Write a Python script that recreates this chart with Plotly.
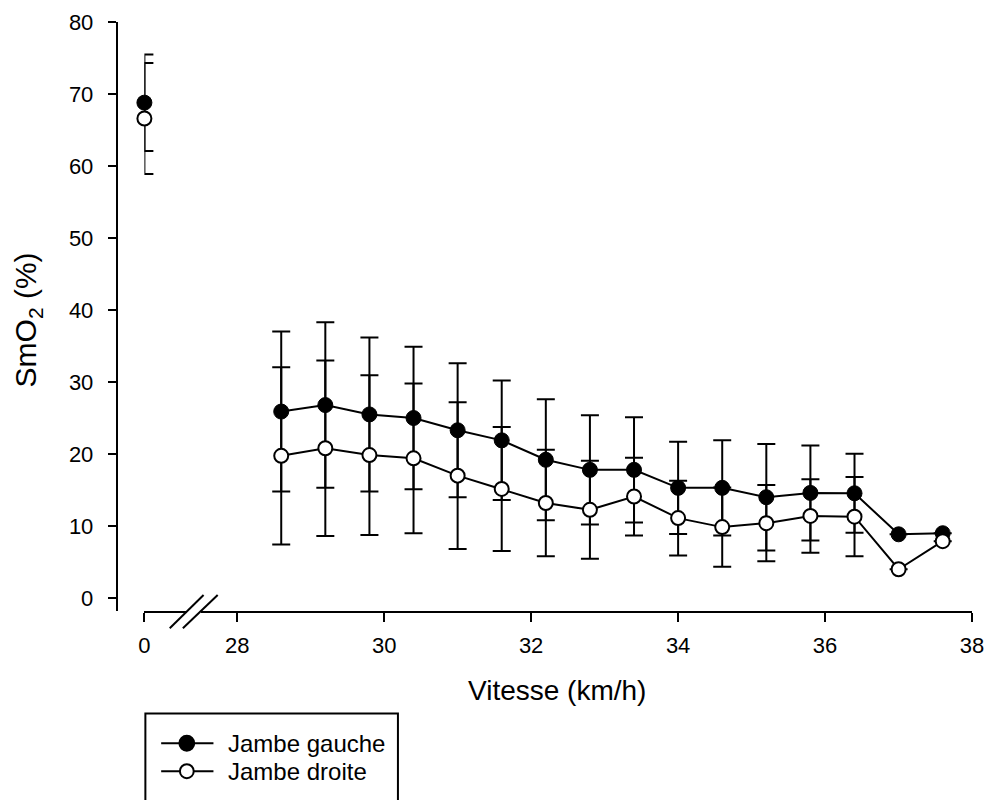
import plotly.graph_objects as go

# ---- data ----
speed = [28.6, 29.2, 29.8, 30.4, 31.0, 31.6, 32.2, 32.8, 33.4, 34.0, 34.6, 35.2, 35.8, 36.4, 37.0, 37.6]
gauche = [25.9, 26.8, 25.5, 25.0, 23.3, 21.9, 19.2, 17.8, 17.8, 15.3, 15.3, 14.0, 14.6, 14.55, 8.85, 9.0]
gauche_sd = [11.1, 11.5, 10.7, 9.9, 9.3, 8.3, 8.4, 7.6, 7.3, 6.4, 6.6, 7.4, 6.6, 5.5, None, None]
droite = [19.75, 20.8, 19.85, 19.4, 17.0, 15.15, 13.2, 12.25, 14.1, 11.1, 9.85, 10.4, 11.4, 11.3, 4.0, 7.9]
droite_sd = [12.3, 12.2, 11.1, 10.4, 10.2, 8.6, 7.4, 6.8, 5.4, 5.2, 5.5, 5.3, 5.1, 5.5, None, None]

rest_speed = [0]
rest_gauche = [68.8]
rest_gauche_sd = [6.7]
rest_droite = [66.6]
rest_droite_sd = [7.7]

x_ticks = [28, 30, 32, 34, 36, 38]
y_ticks = [0, 10, 20, 30, 40, 50, 60, 70, 80]
legend_names = ["Jambe gauche", "Jambe droite"]

W, H = 1002, 800
ML, MR, MT, MB = 100, 10, 19, 189
PW = W - ML - MR
PH = H - MT - MB


def px(x):
    return (x - ML) / PW


def py(y):
    return (H - MB - y) / PH


FONT = "Liberation Sans, Arial, sans-serif"
BLACK = "black"

err_common = dict(type="data", symmetric=True, color=BLACK, thickness=2, width=9)
filled_marker = dict(symbol="circle", size=15, color=BLACK, line=dict(color=BLACK, width=1))
open_marker = dict(symbol="circle", size=14, color="white", line=dict(color=BLACK, width=2))

fig = go.Figure()

# rest values (broken-axis part)
fig.add_trace(go.Scatter(x=rest_speed, y=rest_gauche, mode="markers", xaxis="x2", yaxis="y",
                         marker=filled_marker, cliponaxis=False, showlegend=False,
                         error_y=dict(array=rest_gauche_sd, **err_common)))
fig.add_trace(go.Scatter(x=rest_speed, y=rest_droite, mode="markers", xaxis="x2", yaxis="y",
                         marker=open_marker, cliponaxis=False, showlegend=False,
                         error_y=dict(array=rest_droite_sd, **err_common)))

# running speeds
fig.add_trace(go.Scatter(x=speed, y=gauche, mode="lines+markers", name=legend_names[0],
                         line=dict(color=BLACK, width=2), marker=filled_marker,
                         cliponaxis=False, showlegend=False,
                         error_y=dict(array=gauche_sd, **err_common)))
fig.add_trace(go.Scatter(x=speed, y=droite, mode="lines+markers", name=legend_names[1],
                         line=dict(color=BLACK, width=2), marker=open_marker,
                         cliponaxis=False, showlegend=False,
                         error_y=dict(array=droite_sd, **err_common)))

axis_common = dict(showline=True, linecolor=BLACK, linewidth=2, ticks="outside",
                   tickcolor=BLACK, tickwidth=2, showgrid=False, zeroline=False,
                   tickfont=dict(family=FONT, size=22, color=BLACK))

fig.update_layout(
    width=W, height=H,
    margin=dict(l=ML, r=MR, t=MT, b=MB, pad=0),
    paper_bgcolor="white", plot_bgcolor="white",
    font=dict(family=FONT, color=BLACK),
    showlegend=False,
    xaxis=dict(domain=[px(202), px(984)], range=[28 - 37 / 74.5, 38], anchor="y",
               tickvals=x_ticks, ticktext=[str(v) for v in x_ticks],
               ticklen=9, ticklabelstandoff=5, **axis_common),
    xaxis2=dict(domain=[px(145), px(188)], range=[0, 43 / 74.5], anchor="y",
                tickvals=[0], ticktext=["0"], ticklen=9, ticklabelstandoff=5,
                **axis_common),
    yaxis=dict(domain=[0, 1], range=[-1.8, 80], anchor="free", position=px(117),
               tickvals=y_ticks, ticktext=[str(v) for v in y_ticks],
               ticklen=8, ticklabelstandoff=10, **axis_common),
)

shapes = []
# axis break slashes
for (x0, y0, x1, y1) in [(170.7, 628.3, 205, 595), (184, 628.3, 219.3, 595)]:
    shapes.append(dict(type="line", xref="paper", yref="paper",
                       x0=px(x0), y0=py(y0), x1=px(x1), y1=py(y1),
                       line=dict(color=BLACK, width=2)))

# legend box (continues past bottom edge)
shapes.append(dict(type="rect", xref="paper", yref="paper",
                   x0=px(146), y0=py(714), x1=px(402), y1=py(830),
                   line=dict(color=BLACK, width=2), fillcolor="rgba(0,0,0,0)"))
legend_rows = [744, 772]
for i, yy in enumerate(legend_rows):
    shapes.append(dict(type="line", xref="paper", yref="paper",
                       x0=px(162), y0=py(yy), x1=px(215), y1=py(yy),
                       line=dict(color=BLACK, width=2)))
    r = 7.5 if i == 0 else 7
    shapes.append(dict(type="circle", xref="paper", yref="paper",
                       x0=px(188 - r), x1=px(188 + r), y0=py(yy + r), y1=py(yy - r),
                       fillcolor=BLACK if i == 0 else "white",
                       line=dict(color=BLACK, width=2)))
fig.update_layout(shapes=shapes)

annotations = [
    dict(text="Vitesse (km/h)", xref="paper", yref="paper", x=px(563), y=py(691),
         xanchor="center", yanchor="middle", showarrow=False,
         font=dict(family=FONT, size=28, color=BLACK)),
    dict(text="SmO<sub>2</sub> (%)", xref="paper", yref="paper", x=px(27), y=py(318),
         xanchor="center", yanchor="middle", showarrow=False, textangle=-90,
         font=dict(family=FONT, size=30, color=BLACK)),
]
for i, yy in enumerate(legend_rows):
    annotations.append(dict(text=legend_names[i], xref="paper", yref="paper",
                            x=px(228), y=py(yy), xanchor="left", yanchor="middle",
                            showarrow=False, font=dict(family=FONT, size=24, color=BLACK)))
fig.update_layout(annotations=annotations)

fig.write_html("out.html")
